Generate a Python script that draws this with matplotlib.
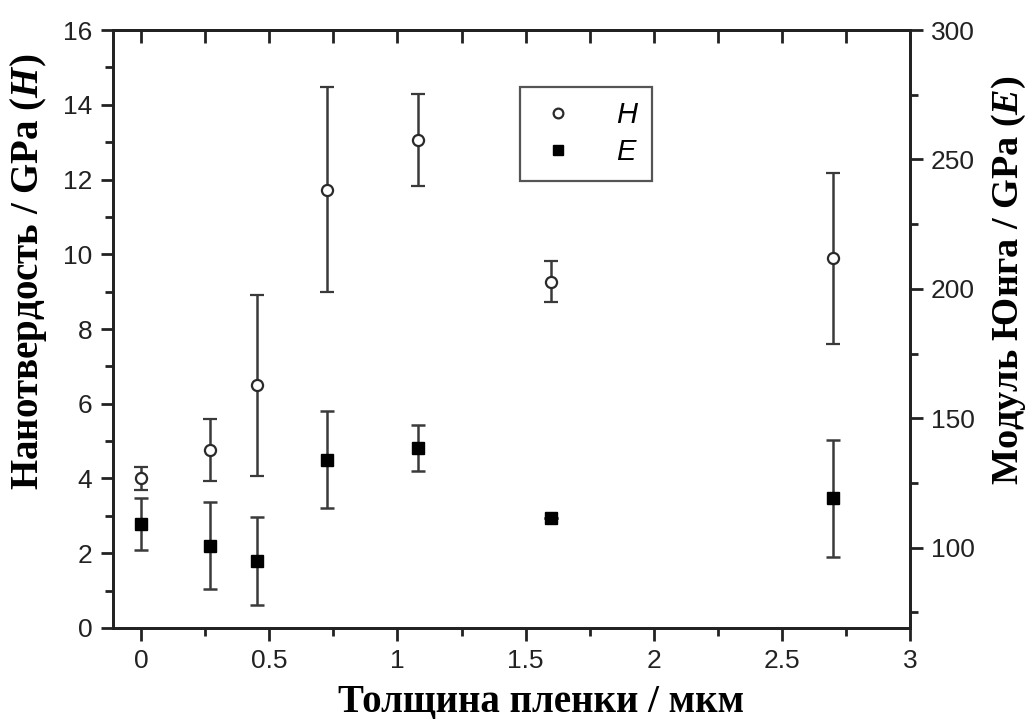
import numpy as np
import matplotlib
matplotlib.use("Agg")
import matplotlib.pyplot as plt
from matplotlib.lines import Line2D
from matplotlib.ticker import MultipleLocator

# толщина пленки, мкм
thickness = [0.0, 0.27, 0.45, 0.725, 1.08, 1.60, 2.70]
# нанотвердость H, GPa
H = [4.0, 4.75, 6.5, 11.73, 13.06, 9.27, 9.89]
H_err = [0.32, 0.83, 2.42, 2.75, 1.23, 0.54, 2.28]
# модуль Юнга E, GPa
E = [109.1, 100.8, 94.7, 134.0, 138.5, 111.4, 119.1]
E_err = [10.1, 16.9, 17.0, 18.8, 9.0, 0.0, 22.5]

plt.rcParams['font.family'] = ['Liberation Sans', 'DejaVu Sans']
plt.rcParams['mathtext.fontset'] = 'custom'
plt.rcParams['mathtext.it'] = 'Liberation Serif:italic:bold'
plt.rcParams['mathtext.rm'] = 'Liberation Serif:bold'
serif = ['Liberation Serif', 'DejaVu Serif']

fig = plt.figure(figsize=(10.3, 7.23), dpi=100)
ax = fig.add_axes([0.1097, 0.1314, 0.7738, 0.8271])
ax2 = ax.twinx()

ecol = '#3a3a3a'
ax.errorbar(thickness, H, yerr=H_err, fmt='o', ms=8, mfc='white', mec='#2a2a2a',
            mew=1.6, ecolor=ecol, elinewidth=1.8, capsize=5, capthick=1.8, zorder=3)
ax2.errorbar(thickness, E, yerr=E_err, fmt='s', ms=8, mfc='black', mec='black',
             ecolor=ecol, elinewidth=1.8, capsize=5, capthick=1.8, zorder=3)

ax.set_xlim(-0.11, 3.0)
ax.set_ylim(0, 16)
ax2.set_ylim(69, 300)

ax.xaxis.set_minor_locator(MultipleLocator(0.25))
ax.yaxis.set_major_locator(MultipleLocator(2))
ax.yaxis.set_minor_locator(MultipleLocator(1))
ax2.yaxis.set_major_locator(MultipleLocator(50))
ax2.yaxis.set_minor_locator(MultipleLocator(25))

ax.set_xticks(np.arange(0, 3.01, 0.5))
ax.set_xticklabels(['0', '0.5', '1', '1.5', '2', '2.5', '3'])

for a in (ax, ax2):
    for s in a.spines.values():
        s.set_linewidth(2.0)
        s.set_color('#222222')

ax.tick_params(axis='both', which='major', direction='out', length=9, width=2,
               labelsize=19, colors='#222222', pad=6)
ax.tick_params(axis='both', which='minor', direction='out', length=6, width=2, colors='#222222')
ax2.tick_params(axis='y', which='major', direction='out', length=9, width=2,
                labelsize=19, colors='#222222', pad=6)
ax2.tick_params(axis='y', which='minor', direction='out', length=6, width=2, colors='#222222')

# верхние засечки направлены внутрь
sec = ax.secondary_xaxis('top')
sec.set_xticks(np.arange(0, 3.01, 0.25))
sec.tick_params(direction='in', length=9, width=2, labeltop=False, colors='#222222')
sec.spines['top'].set_linewidth(2.0)

ax.set_xlabel('Толщина пленки / мкм', family=serif, fontweight='bold', fontsize=28)
ax.xaxis.set_label_coords(0.537, -0.093)
ax.set_ylabel('Нанотвердость / GPa ($H$)', family=serif, fontweight='bold', fontsize=28)
ax.yaxis.set_label_coords(-0.08, 0.595)
ax2.set_ylabel('Модуль Юнга / GPa ($E$)', family=serif, fontweight='bold', fontsize=27.5)
ax2.yaxis.set_label_coords(1.1, 0.582)

handles = [Line2D([], [], ls='none', marker='o', ms=7, mfc='white', mec='#2a2a2a', mew=1.6),
           Line2D([], [], ls='none', marker='s', ms=7, mfc='black', mec='black')]
leg = ax.legend(handles, ['H', 'E'], loc='upper left', bbox_to_anchor=(0.511, 0.905),
                prop={'family': 'Liberation Sans', 'style': 'italic', 'size': 21},
                fancybox=False, edgecolor='#555555', framealpha=1,
                handletextpad=1.2, borderpad=0.5, labelspacing=0.3, handlelength=1.6,
                borderaxespad=0)
leg.get_frame().set_linewidth(1.6)

fig.savefig('out.png', dpi=100)
